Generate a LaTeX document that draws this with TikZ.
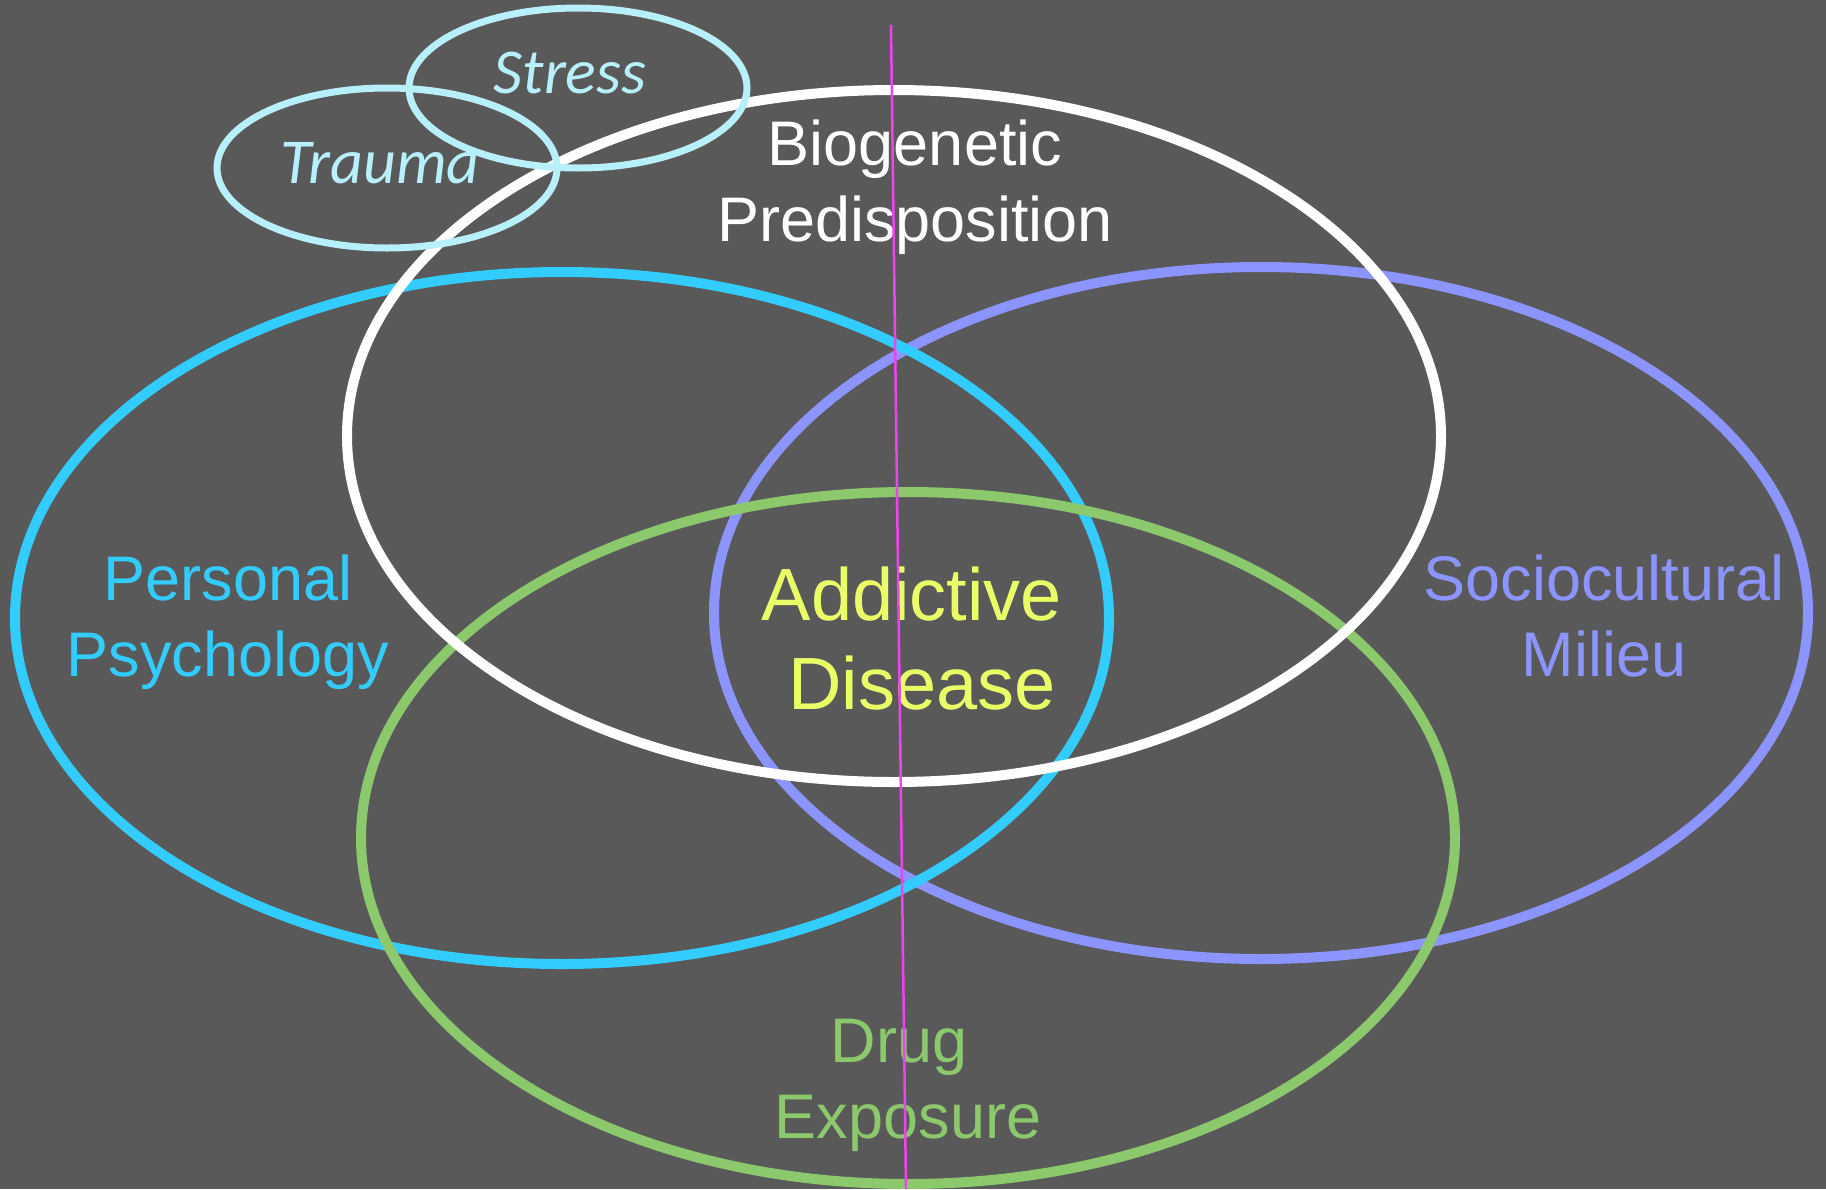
\documentclass[tikz,border=0pt]{standalone}
\usepackage{fontspec}
\setmainfont{Liberation Sans}
\newfontfamily\calfont{Carlito}
\definecolor{bgc}{HTML}{595959}
\definecolor{cyanc}{HTML}{33CCFF}
\definecolor{violetc}{HTML}{8B94FF}
\definecolor{greenc}{HTML}{8CC86C}
\definecolor{yellowc}{HTML}{EBFF66}
\definecolor{lightc}{HTML}{B7F0FA}
\definecolor{magc}{HTML}{EE44EE}
\begin{document}
\begin{tikzpicture}[x=1pt,y=-1pt,
  ring/.style={line width=10pt},
  smallring/.style={line width=7pt, draw=lightc},
  lbl/.style={anchor=base, inner sep=0pt, font=\fontsize{63}{76}\selectfont},
  biglbl/.style={anchor=base, inner sep=0pt, font=\fontsize{74}{89}\selectfont, text=yellowc},
  itlbl/.style={anchor=base, inner sep=0pt, font=\calfont\itshape\fontsize{64}{76}\selectfont, text=lightc}]
\fill[bgc] (0,0) rectangle (1826,1189);
\useasboundingbox (0,0) rectangle (1826,1189);
% Venn rings (bottom to top)
\draw[ring, violetc] (1261,613) ellipse [x radius=547pt, y radius=346pt];
\draw[ring, cyanc] (562,618) ellipse [x radius=547pt, y radius=346pt];
\draw[ring, greenc] (908,838) ellipse [x radius=547pt, y radius=346pt];
\draw[ring, white] (894,436) ellipse [x radius=547pt, y radius=346pt];
% labels
\node[itlbl] (trauma) at (380,183) {Trauma};
\node[itlbl] (stress) at (570,93) {Stress};
\draw[smallring] (387,168) ellipse [x radius=170pt, y radius=80pt];
\draw[smallring] (578,88) ellipse [x radius=169pt, y radius=80pt];
\node[lbl, text=white] (bio1) at (915,165) {Biogenetic};
\node[lbl, text=white] (bio2) at (915,241) {Predisposition};
\node[lbl, text=cyanc] (per1) at (228,600) {Personal};
\node[lbl, text=cyanc] (per2) at (228,676) {Psychology};
\node[lbl, text=violetc] (soc1) at (1604,600) {Sociocultural};
\node[lbl, text=violetc] (soc2) at (1604,676) {Milieu};
\node[biglbl] (add1) at (912,620) {Addictive};
\node[biglbl] (add2) at (922,709) {Disease};
\node[lbl, text=greenc] (drug1) at (899,1062) {Drug};
\node[lbl, text=greenc] (drug2) at (908,1138) {Exposure};
% vertical guide line
\coordinate (ltop) at (891,25);
\coordinate (lbot) at (906,1189);
\draw[magc, line width=2.5pt] (ltop) -- (lbot);
\end{tikzpicture}
\end{document}
